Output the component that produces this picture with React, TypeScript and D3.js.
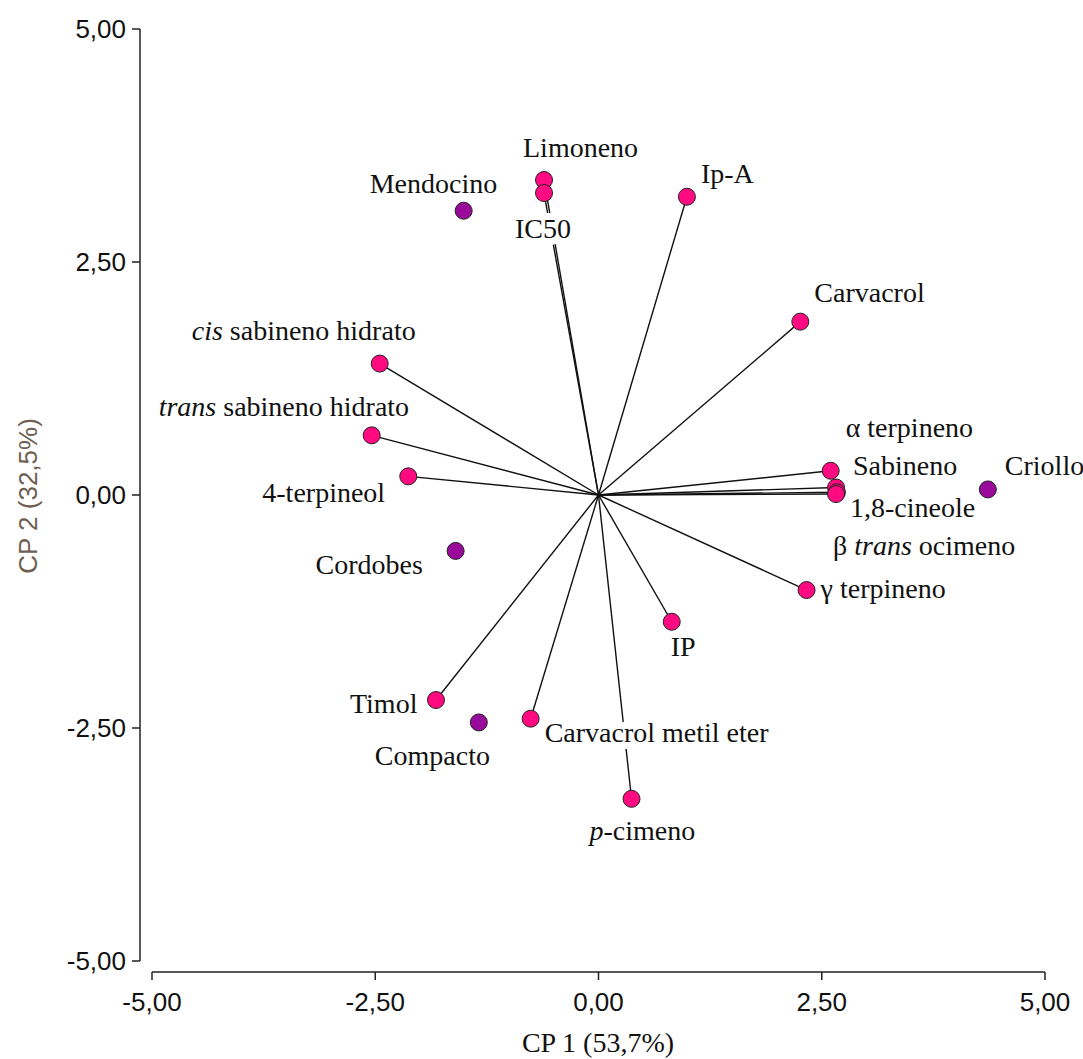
import React from "react";
import * as d3 from "d3";

// Variables (vectors from the origin) — PCA loadings scaled to the biplot
const varNames = [
  "Limoneno", "IC50", "Ip-A", "Carvacrol", "cis sabineno hidrato",
  "trans sabineno hidrato", "4-terpineol", "α terpineno", "Sabineno",
  "1,8-cineole", "β trans ocimeno", "γ terpineno", "IP", "Timol",
  "Carvacrol metil eter", "p-cimeno",
];
const varX = [-0.61, -0.61, 0.99, 2.26, -2.45, -2.54, -2.13, 2.60, 2.66, 2.67, 2.66, 2.33, 0.82, -1.82, -0.76, 0.37];
const varY = [3.38, 3.24, 3.20, 1.86, 1.41, 0.64, 0.20, 0.26, 0.08, 0.03, 0.01, -1.02, -1.36, -2.20, -2.40, -3.26];

// Observations (biotypes)
const obsNames = ["Mendocino", "Cordobes", "Criollo", "Compacto"];
const obsX = [-1.51, -1.60, 4.36, -1.34];
const obsY = [3.05, -0.60, 0.06, -2.44];

// Axis ticks
const ticks = [-5, -2.5, 0, 2.5, 5];
const xTitle = "CP 1 (53,7%)";
const yTitle = "CP 2 (32,5%)";

// Label text segments: [text, italic]
const labelParts: Record<string, [string, boolean][]> = {
  "cis sabineno hidrato": [["cis", true], [" sabineno hidrato", false]],
  "trans sabineno hidrato": [["trans", true], [" sabineno hidrato", false]],
  "β trans ocimeno": [["β ", false], ["trans", true], [" ocimeno", false]],
  "p-cimeno": [["p", true], ["-cimeno", false]],
};

// Label placement (pixel offsets from the marker: start anchor, baseline)
const labelOffset: Record<string, [number, number]> = {
  "Limoneno": [-21, -23],
  "IC50": [-29, 45],
  "Ip-A": [14, -14],
  "Carvacrol": [14, -20],
  "cis sabineno hidrato": [-188, -24],
  "trans sabineno hidrato": [-213, -19],
  "4-terpineol": [-146, 26],
  "α terpineno": [15, -34],
  "Sabineno": [17, -13],
  "1,8-cineole": [13, 25],
  "β trans ocimeno": [-3, 61],
  "γ terpineno": [14, 8],
  "IP": [-1, 34],
  "Timol": [-86, 13],
  "Carvacrol metil eter": [14, 23],
  "p-cimeno": [-42, 41],
  "Mendocino": [-94, -18],
  "Cordobes": [-140, 23],
  "Criollo": [17, -14],
  "Compacto": [-104, 43],
};

const W = 1083;
const H = 1059;
const SERIF = "'Liberation Serif', 'Times New Roman', serif";
const SANS = "'Liberation Sans', Arial, sans-serif";
const PINK = "#ff0a80";
const PURPLE = "#9a0a9a";

const fmt = (v: number) => v.toFixed(2).replace(".", ",");

function Label({ name, x, y }: { name: string; x: number; y: number }) {
  const parts = labelParts[name] ?? [[name, false]];
  const [dx, dy] = labelOffset[name] ?? [10, -10];
  const spans = parts.map(([t, it], i) => (
    <tspan key={i} fontStyle={it ? "italic" : "normal"}>
      {t}
    </tspan>
  ));
  return (
    <g fontFamily={SERIF} fontSize={28}>
      {/* white knock-out behind the text */}
      <text
        x={x + dx}
        y={y + dy}
        fill="#fff"
        stroke="#fff"
        strokeWidth={14}
        strokeLinejoin="round"
      >
        {spans}
      </text>
      <text x={x + dx} y={y + dy} fill="#111">
        {spans}
      </text>
    </g>
  );
}

export default function App() {
  const x = d3.scaleLinear().domain([-5, 5]).range([152, 1045]);
  const y = d3.scaleLinear().domain([-5, 5]).range([961, 29]);
  const axisX = 140;
  const axisY = 972;

  return (
    <svg
      width={W}
      height={H}
      style={{ position: "absolute", left: 0, top: 0, background: "#fff" }}
    >
      <rect width={W} height={H} fill="#fff" />

      {/* Y axis */}
      <line x1={axisX} x2={axisX} y1={y(5)} y2={y(-5)} stroke="#222" strokeWidth={1.5} />
      {ticks.map((t) => (
        <g key={"yt" + t}>
          <line x1={axisX - 8} x2={axisX} y1={y(t)} y2={y(t)} stroke="#222" strokeWidth={1.5} />
          <text
            x={axisX - 14}
            y={y(t)}
            dy="0.35em"
            textAnchor="end"
            fontFamily={SANS}
            fontSize={26}
            fill="#111"
          >
            {fmt(t)}
          </text>
        </g>
      ))}

      {/* X axis */}
      <line x1={x(-5)} x2={x(5)} y1={axisY} y2={axisY} stroke="#222" strokeWidth={1.5} />
      {ticks.map((t) => (
        <g key={"xt" + t}>
          <line x1={x(t)} x2={x(t)} y1={axisY} y2={axisY + 8} stroke="#222" strokeWidth={1.5} />
          <text
            x={x(t)}
            y={1011}
            textAnchor="middle"
            fontFamily={SANS}
            fontSize={26}
            fill="#111"
          >
            {fmt(t)}
          </text>
        </g>
      ))}

      {/* Axis titles */}
      <text x={598} y={1052} textAnchor="middle" fontFamily={SERIF} fontSize={28} fill="#111">
        {xTitle}
      </text>
      <text
        transform={`translate(37, 496) rotate(-90)`}
        textAnchor="middle"
        fontFamily={SANS}
        fontSize={26}
        fill="#6e5f52"
      >
        {yTitle}
      </text>

      {/* Vectors */}
      {varNames.map((n, i) => (
        <line
          key={"v" + n}
          x1={x(0)}
          y1={y(0)}
          x2={x(varX[i])}
          y2={y(varY[i])}
          stroke="#111"
          strokeWidth={1.4}
        />
      ))}

      {/* Labels */}
      {varNames.map((n, i) => (
        <Label key={"lv" + n} name={n} x={x(varX[i])} y={y(varY[i])} />
      ))}
      {obsNames.map((n, i) => (
        <Label key={"lo" + n} name={n} x={x(obsX[i])} y={y(obsY[i])} />
      ))}

      {/* Markers */}
      {obsNames.map((n, i) => (
        <circle key={"o" + n} cx={x(obsX[i])} cy={y(obsY[i])} r={8.5} fill={PURPLE} stroke="#222" strokeWidth={1} />
      ))}
      {varNames.map((n, i) => (
        <circle key={"p" + n} cx={x(varX[i])} cy={y(varY[i])} r={8.5} fill={PINK} stroke="#222" strokeWidth={1} />
      ))}
    </svg>
  );
}
